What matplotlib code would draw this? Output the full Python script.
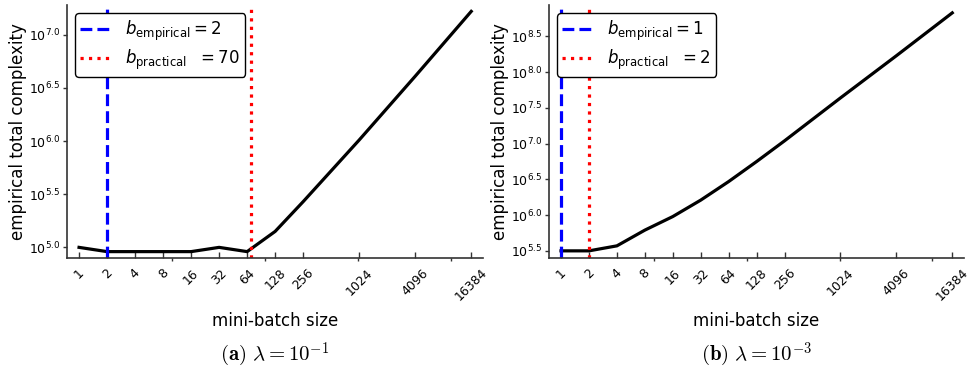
import math
import matplotlib
matplotlib.use("Agg")
import matplotlib.pyplot as plt
from matplotlib.ticker import FixedLocator, NullLocator, FuncFormatter, NullFormatter

plt.rcParams["font.family"] = ["DejaVu Sans"]
plt.rcParams["mathtext.fontset"] = "dejavusans"

# mini-batch sizes and log10 of empirical total complexity
batch_sizes = [1, 2, 4, 8, 16, 32, 64, 128, 256, 1024, 4096, 16384]
log_complexity_a = [5.00, 4.96, 4.96, 4.96, 4.96, 5.00, 4.96, 5.15, 5.43, 6.01, 6.61, 7.22]
log_complexity_b = [5.50, 5.50, 5.57, 5.79, 5.98, 6.21, 6.47, 6.75, 7.04, 7.64, 8.23, 8.83]

b_empirical = [2, 1]
b_practical = [70, 2]
captions = [r"$\mathbf{(a)}\ \lambda = 10^{-1}$", r"$\mathbf{(b)}\ \lambda = 10^{-3}$"]
ytick_sets = [[5.0, 5.5, 6.0, 6.5, 7.0], [5.5, 6.0, 6.5, 7.0, 7.5, 8.0, 8.5]]
ylims = [(4.9, 7.28), (5.4, 8.94)]
xtick_labels = [str(b) for b in batch_sizes]

W, H = 969, 371
fig = plt.figure(figsize=(W / 100, H / 100), dpi=100)

panels = [(67, 483), (549, 964)]
top, bottom = 5, 258

for i, (x0, x1) in enumerate(panels):
    ax = fig.add_axes([x0 / W, 1 - bottom / H, (x1 - x0) / W, (bottom - top) / H])
    ys = [10 ** v for v in (log_complexity_a if i == 0 else log_complexity_b)]
    ax.plot(batch_sizes, ys, color="black", lw=2.3)
    ax.axvline(b_empirical[i], color="blue", ls="--", lw=2.3,
               label=r"$b_{\mathrm{empirical}} = %d$" % b_empirical[i])
    ax.axvline(b_practical[i], color="red", ls=":", lw=2.3,
               label=r"$b_{\mathrm{practical}}\ \ = %d$" % b_practical[i])

    ax.set_xscale("log", base=2)
    ax.set_yscale("log")
    ax.set_xlim(2 ** -0.43, 2 ** 14.42)
    ax.set_ylim(10 ** ylims[i][0], 10 ** ylims[i][1])

    ax.xaxis.set_major_locator(FixedLocator(batch_sizes))
    ax.set_xticklabels(xtick_labels, rotation=45, ha="center", fontsize=9)
    ax.xaxis.set_minor_locator(FixedLocator([10, 100, 1000, 10000]))
    ax.xaxis.set_minor_formatter(NullFormatter())

    ax.yaxis.set_major_locator(FixedLocator([10 ** v for v in ytick_sets[i]]))
    ax.yaxis.set_major_formatter(FuncFormatter(lambda v, p: r"$10^{%.1f}$" % math.log10(v)))
    ax.yaxis.set_minor_locator(NullLocator())
    ax.tick_params(axis="y", labelsize=9, direction="out", length=3, width=1,
                   color="#333333", pad=2)
    ax.tick_params(axis="x", which="major", direction="in", length=4, width=1,
                   color="#333333", pad=6)
    ax.tick_params(axis="x", which="minor", direction="out", length=2.5, width=1,
                   color="#333333")

    for s in ["top", "right"]:
        ax.spines[s].set_visible(False)
    for s in ["left", "bottom"]:
        ax.spines[s].set_linewidth(1.2)
        ax.spines[s].set_color("#333333")

    ax.set_xlabel("mini-batch size", fontsize=12, labelpad=6)
    ax.set_ylabel("empirical total complexity", fontsize=12, labelpad=1)

    leg = ax.legend(loc="upper left", fontsize=12, handlelength=1.8, labelspacing=0.3,
                    handletextpad=0.9, borderpad=0.3, fancybox=True, framealpha=1,
                    edgecolor="black")
    leg.get_frame().set_linewidth(1.0)

    # subcaption in computer modern, like the LaTeX document
    fig.text((x0 + x1) / 2 / W, 1 - 355 / H, captions[i], ha="center", va="center",
             fontsize=15, math_fontfamily="cm")

fig.savefig("out.png", dpi=100)
